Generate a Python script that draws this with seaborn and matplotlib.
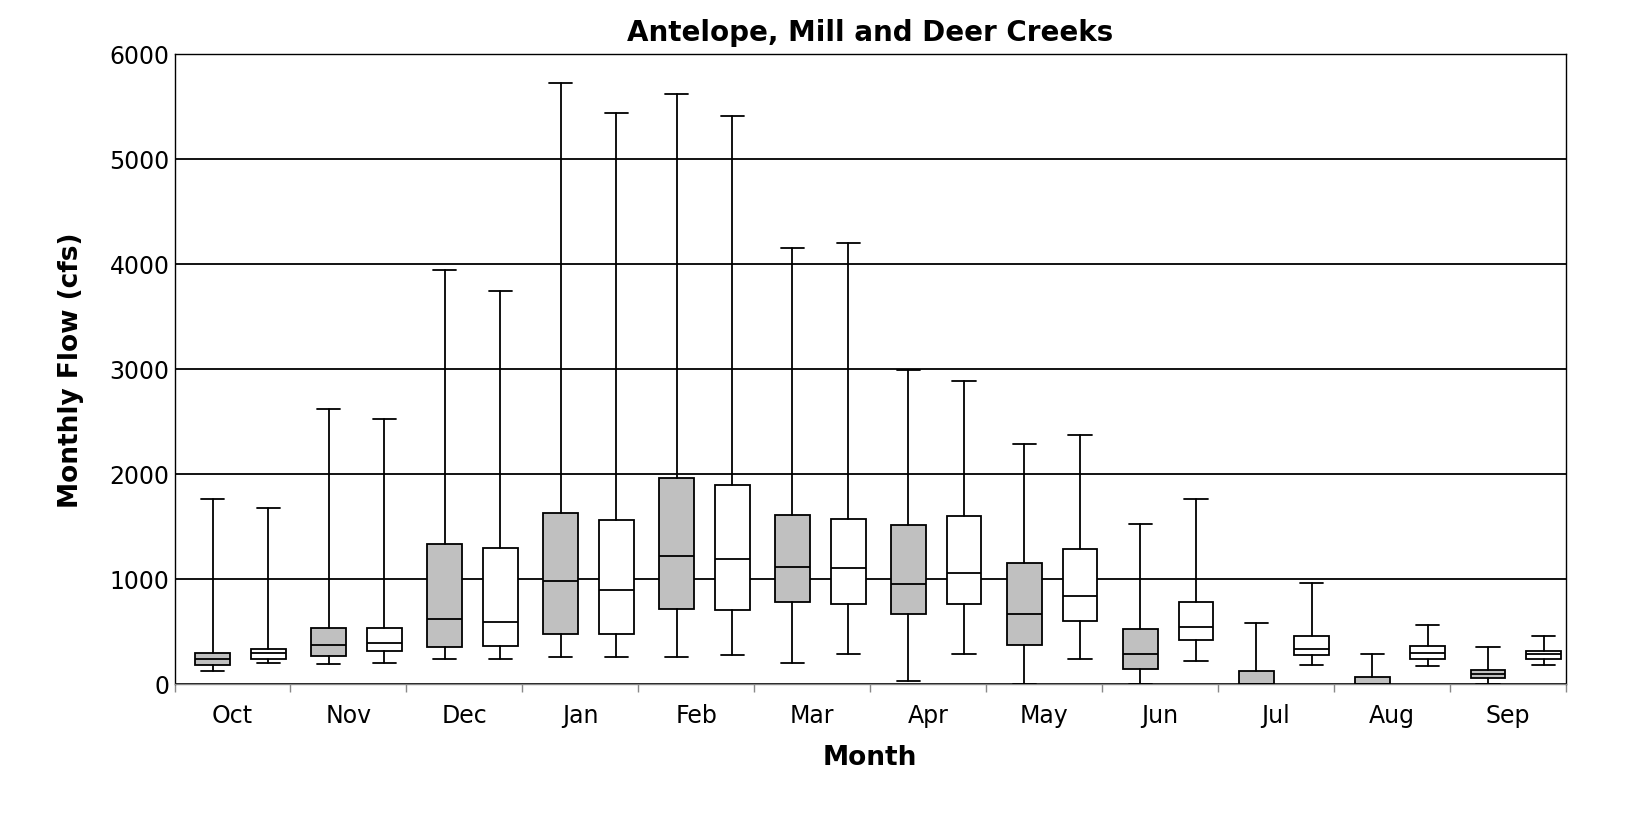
import matplotlib
matplotlib.use("Agg")
import matplotlib.pyplot as plt
import numpy as np
import seaborn as sns

months = ["Oct", "Nov", "Dec", "Jan", "Feb", "Mar", "Apr", "May", "Jun", "Jul", "Aug", "Sep"]

# gray series: whisker max, q3, median, q1, whisker min
gray_max = [1760, 2620, 3940, 5720, 5620, 4150, 2990, 2280, 1520, 580, 280, 350]
gray_q3 = [295, 530, 1330, 1630, 1960, 1610, 1510, 1150, 520, 120, 60, 130]
gray_med = [240, 370, 620, 980, 1220, 1110, 950, 660, 280, 0, 0, 90]
gray_q1 = [180, 265, 350, 470, 710, 780, 660, 370, 140, 0, 0, 50]
gray_min = [120, 190, 240, 250, 250, 200, 30, 0, 0, 0, 0, 0]

white_max = [1670, 2520, 3740, 5440, 5410, 4200, 2880, 2370, 1760, 960, 560, 450]
white_q3 = [330, 530, 1290, 1560, 1890, 1570, 1600, 1280, 780, 450, 360, 310]
white_med = [290, 390, 590, 890, 1190, 1100, 1050, 840, 540, 330, 290, 280]
white_q1 = [240, 310, 360, 470, 700, 760, 760, 600, 420, 270, 240, 240]
white_min = [195, 195, 240, 250, 270, 280, 280, 240, 220, 180, 170, 180]


def make_stats(mx, q3, med, q1, mn):
    return [dict(whishi=a, q3=b, med=c, q1=d, whislo=e, fliers=[])
            for a, b, c, d, e in zip(mx, q3, med, q1, mn)]


sns.set_theme(style="white")
plt.rcParams["font.family"] = ["DejaVu Sans"]
plt.rcParams["text.color"] = "black"
plt.rcParams["axes.labelcolor"] = "black"
plt.rcParams["xtick.color"] = "black"
plt.rcParams["ytick.color"] = "black"

fig, ax = plt.subplots(figsize=(16.31, 8.2), dpi=100)
fig.subplots_adjust(left=0.107, right=0.96, top=0.933, bottom=0.165)

x = np.arange(len(months))
line = dict(color="black", linewidth=1.3)
for stats, off, fc in [
    (make_stats(gray_max, gray_q3, gray_med, gray_q1, gray_min), -0.17, "#c0c0c0"),
    (make_stats(white_max, white_q3, white_med, white_q1, white_min), 0.31, "white"),
]:
    ax.bxp(stats, positions=x + off, widths=0.3, patch_artist=True, showfliers=False,
           boxprops=dict(facecolor=fc, edgecolor="black", linewidth=1.3),
           medianprops=line, whiskerprops=line, capprops=line, capwidths=0.2,
           manage_ticks=False, zorder=3)

ax.set_xlim(-0.5, len(months) - 0.5)
ax.set_ylim(0, 6000)
ax.set_yticks(range(0, 6001, 1000))
ax.yaxis.grid(True, color="black", linewidth=1.3)
ax.set_axisbelow(True)
ax.set_xticks(x)
ax.set_xticklabels(months, fontsize=17)
ax.set_xticks(np.arange(-0.5, len(months)), minor=True)
ax.tick_params(axis="x", which="major", length=0, pad=14)
ax.tick_params(axis="x", which="minor", length=6, color="#888888", bottom=True)
ax.tick_params(axis="y", labelsize=17, length=0)
for s in ax.spines.values():
    s.set_color("black")
    s.set_linewidth(1.0)
ax.spines["bottom"].set_color("#888888")

ax.set_title("Antelope, Mill and Deer Creeks", fontsize=20, fontweight="bold", pad=10)
ax.set_xlabel("Month", fontsize=19, fontweight="bold", labelpad=12)
ax.set_ylabel("Monthly Flow (cfs)", fontsize=19, fontweight="bold", labelpad=18)

fig.savefig("out.png", dpi=100)
